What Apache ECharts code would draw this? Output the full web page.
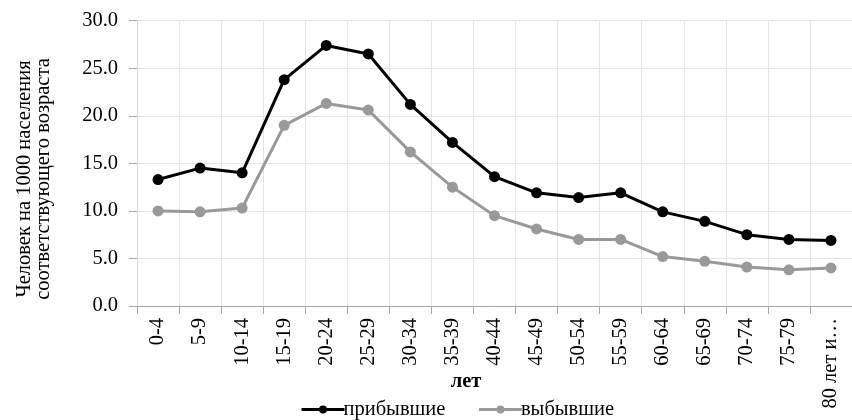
<!DOCTYPE html>
<html>
<head>
<meta charset="utf-8">
<script src="https://cdn.jsdelivr.net/npm/echarts@6/dist/echarts.min.js"></script>
<style>
html,body{margin:0;padding:0;background:#fff;}
#chart{width:852px;height:420px;}
</style>
</head>
<body>
<div id="chart"></div>
<script>
const categories = ['0-4','5-9','10-14','15-19','20-24','25-29','30-34','35-39','40-44','45-49','50-54','55-59','60-64','65-69','70-74','75-79','80 лет и более'];
const arrived = [13.3,14.5,14.0,23.8,27.4,26.5,21.2,17.2,13.6,11.9,11.4,11.9,9.9,8.9,7.5,7.0,6.9];
const departed = [10.0,9.9,10.3,19.0,21.3,20.6,16.2,12.5,9.5,8.1,7.0,7.0,5.2,4.7,4.1,3.8,4.0];
const seriesNames = ['прибывшие','выбывшие'];
const yAxisTitle = 'Человек на 1000 населения\nсоответствующего возраста';
const xAxisTitle = 'лет';

const FONT = '"Liberation Serif","Times New Roman",serif';
const FS = 20.5;
const chart = echarts.init(document.getElementById('chart'), null, {renderer:'canvas'});
chart.setOption({
  animation:false,
  backgroundColor:'#fff',
  grid:{left:137, top:20.7, right:-7, bottom:114},
  legend:{
    left:300, top:399, padding:0, itemWidth:43, itemHeight:10, itemGap:32,
    lineStyle:{width:3},
    textStyle:{fontFamily:FONT, fontSize:FS, color:'#000', padding:[0,0,0,-6]},
    data:seriesNames
  },
  xAxis:{
    type:'category', data:categories, boundaryGap:true,
    axisLine:{show:true, lineStyle:{color:'#a6a6a6', width:1}},
    axisTick:{show:true, interval:0, length:8, lineStyle:{color:'#a6a6a6'}},
    splitLine:{show:true, interval:0, lineStyle:{color:'#e3e3e3', width:1}},
    axisLabel:{interval:0, rotate:90, margin:12, color:'#000', fontFamily:FONT, fontSize:FS,
      formatter:v => v.length > 8 ? v.slice(0, 8) + '…' : v}
  },
  yAxis:{
    type:'value', min:0, max:30, interval:5,
    axisLine:{show:true, lineStyle:{color:'#d9d9d9'}},
    axisTick:{show:true, length:8, lineStyle:{color:'#a6a6a6'}},
    splitLine:{show:true, lineStyle:{color:'#e3e3e3'}},
    axisLabel:{margin:19, color:'#000', fontFamily:FONT, fontSize:FS, formatter:v=>v.toFixed(1)}
  },
  graphic:[
    {type:'text', x:34.5, y:179, rotation:Math.PI/2,
      style:{text:yAxisTitle, fontFamily:FONT, fontSize:FS, lineHeight:19, fill:'#000', align:'center', verticalAlign:'middle'}},
    {type:'text', x:466, y:382,
      style:{text:xAxisTitle, fontFamily:FONT, fontSize:FS, fontWeight:'bold', fill:'#000', align:'center', verticalAlign:'middle'}}
  ],
  series:[
    {name:seriesNames[0], type:'line', data:arrived, symbol:'circle', symbolSize:11,
      lineStyle:{color:'#000', width:3}, itemStyle:{color:'#000'}, z:3},
    {name:seriesNames[1], type:'line', data:departed, symbol:'circle', symbolSize:11,
      lineStyle:{color:'#999', width:3}, itemStyle:{color:'#999'}, z:2}
  ]
});
</script>
</body>
</html>
